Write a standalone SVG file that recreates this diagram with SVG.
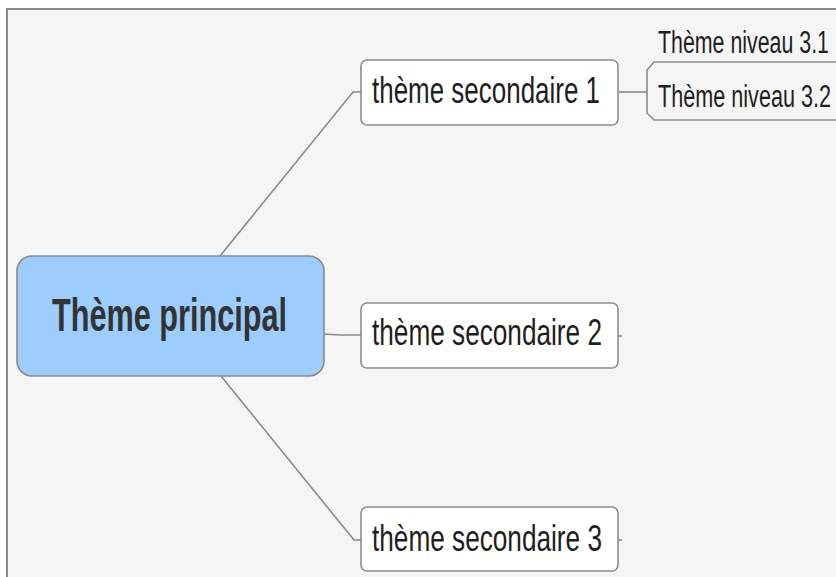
<svg xmlns="http://www.w3.org/2000/svg" width="836" height="577" viewBox="0 0 836 577">
<style>
.conn{fill:none;stroke:#8a8a8a;stroke-width:1.6}
.sec{fill:#ffffff;stroke:#8c8c8c;stroke-width:1.6}
.sect{font-family:"Liberation Sans",Arial,sans-serif;font-size:37px;fill:#1e1e1e}
.l3t{font-family:"Liberation Sans",Arial,sans-serif;font-size:31px;fill:#1e1e1e}
</style>
<rect x="0" y="0" width="836" height="577" fill="#ffffff"/>
<rect x="7" y="9" width="829" height="568" fill="#f5f5f5"/>
<path d="M7 577 V9 H836" fill="none" stroke="#8a8a8a" stroke-width="2"/>
<g id="connectors">
<path class="conn" d="M220 256 L353 92 H361"/>
<path class="conn" d="M323 334 L340 335 H361"/>
<path class="conn" d="M221 376 L354 540 H361"/>
<path class="conn" d="M619 92 H647"/>
<path class="conn" d="M618 336 H622"/>
<path class="conn" d="M618 540 H622"/>
</g>
<g id="main">
<rect x="17" y="256" width="307" height="120" rx="15" fill="#9dcdfd" stroke="#8a8a8a" stroke-width="1.6"/>
<text x="52" y="331" font-family="Liberation Sans,Arial,sans-serif" font-weight="bold" font-size="47" fill="#333" textLength="235" lengthAdjust="spacingAndGlyphs">Thème principal</text>
</g>
<g id="sec1">
<rect class="sec" x="361" y="60" width="257" height="65" rx="6"/>
<text class="sect" x="372" y="103" textLength="228" lengthAdjust="spacingAndGlyphs">thème secondaire 1</text>
</g>
<g id="sec2">
<rect class="sec" x="361" y="303" width="257" height="65" rx="6"/>
<text class="sect" x="372" y="345" textLength="230" lengthAdjust="spacingAndGlyphs">thème secondaire 2</text>
</g>
<g id="sec3">
<rect class="sec" x="361" y="507" width="257" height="64" rx="6"/>
<text class="sect" x="372" y="551" textLength="230" lengthAdjust="spacingAndGlyphs">thème secondaire 3</text>
</g>
<g id="n31">
<text class="l3t" x="658" y="53" textLength="171" lengthAdjust="spacingAndGlyphs">Thème niveau 3.1</text>
</g>
<g id="n32">
<path d="M836 62 H654 L647 70 V113 L654 120 H836" fill="#f5f5f5" stroke="#8c8c8c" stroke-width="1.6"/>
<text class="l3t" x="658" y="107" textLength="173" lengthAdjust="spacingAndGlyphs">Thème niveau 3.2</text>
</g>
</svg>
